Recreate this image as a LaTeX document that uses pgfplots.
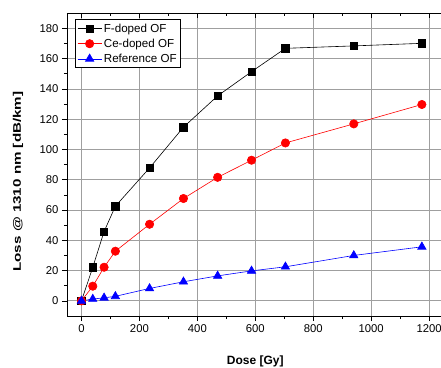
\documentclass[border=0pt]{standalone}
\usepackage{graphicx}
\usepackage{pgfplots}
\pgfplotsset{compat=1.18}
\usepackage{fontspec}
\setmainfont{Liberation Sans}
\begin{document}
\begin{tikzpicture}
\useasboundingbox (-67pt,-51pt) rectangle (374pt,316pt);
\begin{axis}[
  at={(0,0)}, anchor=south west,
  scale only axis, width=376.6pt, height=302.8pt,
  xmin=-50, xmax=1250, ymin=-10, ymax=190,
  xtick={0,200,...,1200}, ytick={0,20,...,180},
  minor x tick num=1, minor y tick num=1,
  xtick pos=bottom, ytick pos=left,
  tick align=outside,
  major tick length=5pt, minor tick length=3pt,
  grid=major,
  major grid style={gray!75, line width=0.8pt},
  axis line style={black, line width=0.8pt},
  tick style={black, line width=0.7pt},
  /pgf/number format/assume math mode=true,
  /pgf/number format/1000 sep={},
  tick label style={font=\fontsize{11.3}{13}\selectfont},
  xlabel={\fontsize{12}{14}\selectfont\bfseries Dose [Gy]},
  xlabel style={at={([yshift=-45pt]axis description cs:0.5,0)}, anchor=center},
  ylabel={\scalebox{1.38}[1]{\fontsize{11}{13}\selectfont\bfseries Loss @ 1310 nm [dB/km]}},
  ylabel style={at={([xshift=-49pt]axis description cs:0,0.444)}, anchor=center},
  legend style={at={(0.0212,0.980)}, anchor=north west, draw=black, line width=0.8pt,
    font=\fontsize{11.6}{13}\selectfont, row sep=1.2pt, inner sep=2pt},
  legend cell align=left,
  legend image code/.code={\draw[mark repeat=2,mark phase=2] plot coordinates {(0cm,0cm)(0.42cm,0cm)(0.84cm,0cm)};},
]
\addplot[black, line width=0.6pt, mark=square*, mark size=3.7pt, mark options={solid, fill=black}]
  coordinates {(0,0) (39,22.2) (78,45.8) (117,62.5) (235,87.8) (352,114.7) (470,135.4) (587,151.4) (704,166.8) (940,168.4) (1175,170.1)};
\addlegendentry{F-doped OF}
\addplot[red, line width=0.6pt, mark=*, mark size=4.2pt, mark options={solid, fill=red}]
  coordinates {(0,0) (39,9.7) (78,22.2) (117,32.8) (235,50.6) (352,67.6) (470,81.6) (587,92.9) (704,104.3) (940,116.9) (1175,129.7)};
\addlegendentry{Ce-doped OF}
\addplot[blue, line width=0.6pt, mark=triangle*, mark size=4.8pt, mark options={solid, fill=blue}]
  coordinates {(0,0) (39,1.2) (78,2.0) (117,3.0) (235,8.2) (352,12.6) (470,16.5) (587,19.8) (704,22.5) (940,30.0) (1175,35.7)};
\addlegendentry{Reference OF}
\end{axis}
\begin{axis}[
  at={(0,0)}, anchor=south west,
  scale only axis, width=376.6pt, height=302.8pt,
  xmin=-50, xmax=1250, ymin=-10, ymax=190,
  axis x line*=top, axis y line=none,
  xtick={0,200,...,1200}, minor x tick num=1,
  xticklabels={}, tick align=inside,
  major tick length=5pt, minor tick length=3pt,
  axis line style={black, line width=0.8pt},
  tick style={black, line width=0.7pt},
]
\end{axis}
\end{tikzpicture}
\end{document}
